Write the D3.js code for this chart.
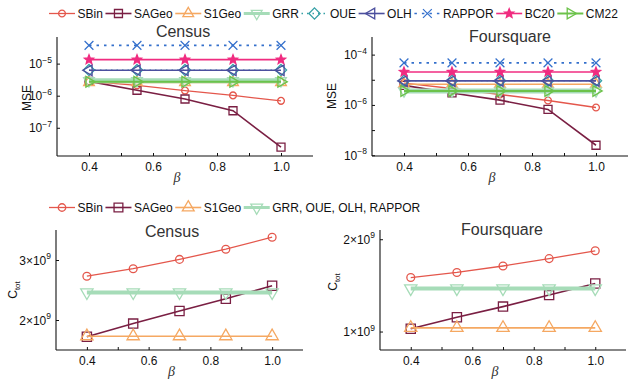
<!DOCTYPE html>
<html><head><meta charset="utf-8">
<script src="https://cdn.jsdelivr.net/npm/d3@7"></script>
<style>
body{margin:0;background:#fff}
svg{display:block;font-family:"Liberation Sans",Arial,sans-serif}
</style>
</head><body>
<svg id="chart" width="631" height="381"></svg>
<script>
// ---- data ----
const beta = [0.4, 0.55, 0.7, 0.85, 1.0];
const methods = ["SBin", "SAGeo", "S1Geo", "GRR", "OUE", "OLH", "RAPPOR", "BC20", "CM22"];
const costMethods = ["SBin", "SAGeo", "S1Geo", "GRR"];
const costLegendLabels = ["SBin", "SAGeo", "S1Geo", "GRR, OUE, OLH, RAPPOR"];
const xTickLabels = [0.4, 0.6, 0.8, 1.0];

// MSE on Census, rows follow `methods`
const censusMse = [
  [2.8e-6, 2.1e-6, 1.45e-6, 1.02e-6, 6.9e-7],
  [2.8e-6, 1.48e-6, 7.9e-7, 3.4e-7, 2.5e-8],
  [2.6e-6, 2.6e-6, 2.6e-6, 2.6e-6, 2.6e-6],
  [2.9e-6, 2.9e-6, 2.9e-6, 2.9e-6, 2.9e-6],
  [6.3e-6, 6.3e-6, 6.3e-6, 6.3e-6, 6.3e-6],
  [6.2e-6, 6.2e-6, 6.2e-6, 6.2e-6, 6.2e-6],
  [3.7e-5, 3.7e-5, 3.7e-5, 3.7e-5, 3.7e-5],
  [1.33e-5, 1.33e-5, 1.33e-5, 1.33e-5, 1.33e-5],
  [2.7e-6, 2.7e-6, 2.7e-6, 2.7e-6, 2.7e-6]
];
// MSE on Foursquare, rows follow `methods`
const foursquareMse = [
  [7.4e-6, 4.5e-6, 2.6e-6, 1.5e-6, 7.9e-7],
  [6.0e-6, 3.0e-6, 1.55e-6, 6.6e-7, 2.5e-8],
  [6.6e-6, 6.6e-6, 6.6e-6, 6.6e-6, 6.6e-6],
  [3.6e-6, 3.6e-6, 3.6e-6, 3.6e-6, 3.6e-6],
  [9.2e-6, 9.2e-6, 9.2e-6, 9.2e-6, 9.2e-6],
  [9.0e-6, 9.0e-6, 9.0e-6, 9.0e-6, 9.0e-6],
  [4.7e-5, 4.7e-5, 4.7e-5, 4.7e-5, 4.7e-5],
  [2.05e-5, 2.05e-5, 2.05e-5, 2.05e-5, 2.05e-5],
  [3.6e-6, 3.6e-6, 3.6e-6, 3.6e-6, 3.6e-6]
];
// total cost on Census, rows follow `costMethods`
const censusCost = [
  [2.73e9, 2.855e9, 3.01e9, 3.18e9, 3.38e9],
  [1.72e9, 1.94e9, 2.15e9, 2.355e9, 2.57e9],
  [1.73e9, 1.73e9, 1.73e9, 1.73e9, 1.73e9],
  [2.46e9, 2.46e9, 2.46e9, 2.46e9, 2.46e9]
];
// total cost on Foursquare, rows follow `costMethods`
const foursquareCost = [
  [1.585e9, 1.64e9, 1.71e9, 1.79e9, 1.875e9],
  [1.03e9, 1.155e9, 1.27e9, 1.395e9, 1.52e9],
  [1.04e9, 1.04e9, 1.04e9, 1.04e9, 1.04e9],
  [1.467e9, 1.467e9, 1.467e9, 1.467e9, 1.467e9]
];

// ---- styles ----
const style = {
  SBin:   {color: "#e4574c", width: 1.3, marker: "circle"},
  SAGeo:  {color: "#7a1f43", width: 1.6, marker: "square"},
  S1Geo:  {color: "#f5a862", width: 1.6, marker: "triUp"},
  GRR:    {color: "#a6dcb8", width: 5,   marker: "triDown"},
  OUE:    {color: "#36a0a6", width: 1.3, marker: "diamond", dash: "1.5,4"},
  OLH:    {color: "#4b4f9e", width: 1.6, marker: "triLeft"},
  RAPPOR: {color: "#3470cc", width: 1.6, marker: "x", dash: "2.5,5"},
  BC20:   {color: "#f02c80", width: 1.6, marker: "star"},
  CM22:   {color: "#6cc24a", width: 2,   marker: "triRight"}
};

function triangle(angleDeg, r) {
  const pts = [0, 120, 240].map(a => {
    const t = (angleDeg + a) * Math.PI / 180;
    return [r * Math.cos(t), r * Math.sin(t)];
  });
  return "M" + pts.map(p => p.join(",")).join("L") + "Z";
}
function markerPath(type, k) {
  switch (type) {
    case "circle": { const r = 3.4 * k; return `M${-r},0A${r},${r} 0 1,0 ${r},0A${r},${r} 0 1,0 ${-r},0Z`; }
    case "square": { const h = 4 * k; return `M${-h},${-h}H${h}V${h}H${-h}Z`; }
    case "triUp": return triangle(-90, 6.2 * k);
    case "triDown": return triangle(90, 6.2 * k);
    case "triLeft": return triangle(180, 6.2 * k);
    case "triRight": return triangle(0, 6.2 * k);
    case "diamond": { const h = 5.6 * k; return `M0,${-h}L${h},0L0,${h}L${-h},0Z`; }
    case "x": { const h = 4.4 * k; return `M${-h},${-h}L${h},${h}M${-h},${h}L${h},${-h}`; }
    case "star": {
      const R = 4.8 * k, r = 2.1 * k; let d = "";
      for (let i = 0; i < 10; i++) {
        const t = (-90 + i * 36) * Math.PI / 180, rr = i % 2 ? r : R;
        d += (i ? "L" : "M") + (rr * Math.cos(t)).toFixed(2) + "," + (rr * Math.sin(t)).toFixed(2);
      }
      return d + "Z";
    }
  }
}
function drawMarker(g, type, color, k, x, y) {
  const filled = type === "star";
  g.append("path").attr("d", markerPath(type, k))
    .attr("transform", `translate(${x},${y})`)
    .attr("fill", filled ? color : "none")
    .attr("stroke", color).attr("stroke-width", type === "x" ? 1.2 : 1.3);
}

const svg = d3.select("#chart");

// ---- legends ----
function legend(y, names, labels, k, grrWidth) {
  const g = svg.append("g");
  let x = 49;
  names.forEach((m, i) => {
    const s = style[m];
    g.append("line").attr("x1", x).attr("x2", x + 26).attr("y1", y).attr("y2", y)
      .attr("stroke", s.color).attr("stroke-width", m === "GRR" ? grrWidth : s.width)
      .attr("stroke-dasharray", s.dash || null);
    drawMarker(g, s.marker, s.color, k, x + 13, y);
    const t = g.append("text").attr("x", x + 28.5).attr("y", y + 4.3)
      .attr("font-size", 12).attr("fill", "#111").text(labels[i]);
    x += 28.5 + t.node().getComputedTextLength() + 2.6;
  });
}
legend(13.5, methods, methods, 1, 3);
legend(207.5, costMethods, costLegendLabels, 1.1, 3);

// ---- panels ----
function supLabel(sel, base, exp) {
  sel.append("tspan").text(base);
  sel.append("tspan").attr("font-size", 8.5).attr("dy", -5.5).text(exp);
}

function panel(cfg) {
  const g = svg.append("g");
  const x = d3.scaleLinear().domain([0.3, 1.1]).range([cfg.left, cfg.right]);
  const y = (cfg.log ? d3.scaleLog() : d3.scaleLinear()).domain(cfg.yDomain).range([cfg.bottom, cfg.top]);

  // axes
  const ax = d3.axisBottom(x).tickValues(d3.range(4, 11).map(v => v / 10))
    .tickSize(-3).tickPadding(6)
    .tickFormat(d => xTickLabels.some(v => Math.abs(v - d) < 1e-9) ? d3.format(".1f")(d) : "");
  const gx = g.append("g").attr("transform", `translate(0,${cfg.bottom})`).call(ax);
  gx.select(".domain").attr("d", `M${cfg.left},0H${cfg.right}`);
  gx.selectAll("text").attr("font-size", 12).attr("fill", "#111").attr("font-family", "Liberation Sans, Arial");

  const ay = d3.axisLeft(y).tickValues(cfg.yTicks.concat(cfg.yMinor || [])).tickSize(-3).tickFormat("");
  const gy = g.append("g").attr("transform", `translate(${cfg.left},0)`).call(ay);
  gy.select(".domain").attr("d", `M0,${cfg.top}V${cfg.bottom}`);
  g.selectAll(".domain").attr("stroke", "#111").attr("stroke-width", 1.1);
  g.selectAll(".tick line").attr("stroke", "#111");

  cfg.yTicks.forEach(v => {
    const t = g.append("text").attr("x", cfg.left - 5).attr("y", y(v) + 4.5)
      .attr("text-anchor", "end").attr("font-size", 12).attr("fill", "#111");
    cfg.yLabel(t, v);
  });

  // series
  const line = d3.line().x((d, i) => x(beta[i])).y(d => y(d));
  cfg.names.forEach((m, i) => {
    const s = style[m];
    g.append("path").datum(cfg.data[i]).attr("d", line)
      .attr("fill", "none").attr("stroke", s.color)
      .attr("stroke-width", m === "GRR" ? cfg.grrWidth : s.width)
      .attr("stroke-dasharray", s.dash || null);
    cfg.data[i].forEach((v, j) => drawMarker(g, s.marker, s.color, cfg.k, x(beta[j]), y(v)));
  });

  // titles and axis labels
  g.append("text").attr("x", cfg.titleX).attr("y", cfg.titleY).attr("text-anchor", "middle")
    .attr("font-size", 16).attr("fill", "#333").text(cfg.title);
  g.append("text").attr("x", (cfg.left + cfg.right) / 2 - 8).attr("y", cfg.bottom + 26)
    .attr("text-anchor", "middle").attr("font-size", 14).attr("font-style", "italic")
    .attr("font-family", "Liberation Serif, serif").attr("fill", "#333").text("β");
  const yl = g.append("text").attr("transform", `translate(${cfg.yLabelX},${cfg.yLabelY}) rotate(-90)`)
    .attr("text-anchor", "middle").attr("font-size", 12).attr("fill", "#111");
  cfg.axisTitle(yl);
}

const logLabel = (t, v) => supLabel(t, "10", "\u2212" + Math.round(-Math.log10(v)));
const costLabel = (t, v) => supLabel(t, Math.round(v / 1e9) + "\u00d710", "9");
const mseTitle = t => t.text("MSE");
const costTitle = t => {
  t.append("tspan").text("C");
  t.append("tspan").attr("font-size", 8).attr("dy", 3).text("tot");
};

panel({left: 57, right: 313, top: 37, bottom: 156, log: true,
  yDomain: [Math.pow(10, -7.88), Math.pow(10, -4.17)], yTicks: [1e-5, 1e-6, 1e-7],
  yLabel: logLabel, axisTitle: mseTitle, yLabelX: 31, yLabelY: 98,
  names: methods, data: censusMse, k: 1, grrWidth: 5,
  title: "Census", titleX: 183, titleY: 37});
panel({left: 372, right: 628, top: 37, bottom: 156, log: true,
  yDomain: [Math.pow(10, -8.03), Math.pow(10, -3.3)], yTicks: [1e-4, 1e-6, 1e-8], yMinor: [1e-5, 1e-7],
  yLabel: logLabel, axisTitle: mseTitle, yLabelX: 336, yLabelY: 96,
  names: methods, data: foursquareMse, k: 1, grrWidth: 5,
  title: "Foursquare", titleX: 510, titleY: 42});
panel({left: 56, right: 303, top: 230, bottom: 350, log: false,
  yDomain: [1.5e9, 3.5e9], yTicks: [2e9, 3e9],
  yLabel: costLabel, axisTitle: costTitle, yLabelX: 17, yLabelY: 290,
  names: costMethods, data: censusCost, k: 1.15, grrWidth: 4,
  title: "Census", titleX: 172, titleY: 237});
panel({left: 380, right: 626, top: 230, bottom: 350, log: false,
  yDomain: [0.8e9, 2.1e9], yTicks: [1e9, 2e9],
  yLabel: costLabel, axisTitle: costTitle, yLabelX: 337, yLabelY: 282,
  names: costMethods, data: foursquareCost, k: 1.15, grrWidth: 4,
  title: "Foursquare", titleX: 502, titleY: 235});
</script>
</body></html>
